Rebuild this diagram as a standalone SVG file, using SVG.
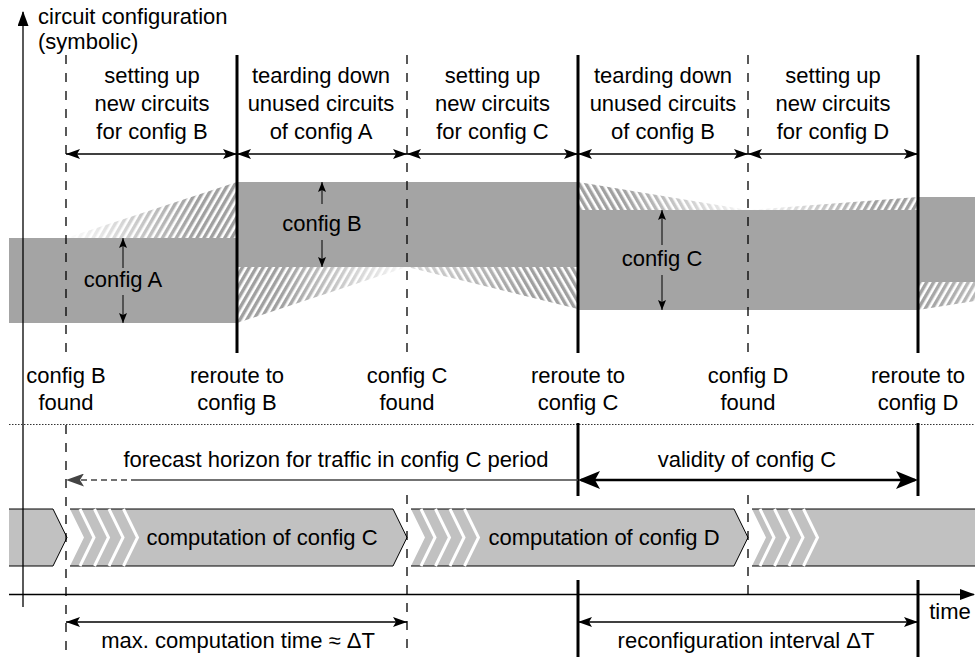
<svg xmlns="http://www.w3.org/2000/svg" width="975" height="657" viewBox="0 0 975 657">
  <style>
    .t { font-family: "Liberation Sans", Arial, Helvetica, sans-serif; font-size: 22px; fill: #000; text-anchor: middle; }
    .band { fill: #a4a4a4; }
    .calc { fill: #c1c1c1; }
    .calc-edge { fill: none; stroke: #000; stroke-width: 1; }
    .chev { fill: none; stroke: #fff; stroke-width: 3; }
    .dash { fill: none; stroke: #000; stroke-width: 1.3; stroke-dasharray: 9 9; }
    .thick { fill: none; stroke: #000; stroke-width: 3; }
    .thin { fill: none; stroke: #000; stroke-width: 1.3; }
    .span { fill: none; stroke: #000; stroke-width: 1.3; marker-start: url(#head); marker-end: url(#head); }
    .size { fill: none; stroke: #000; stroke-width: 1; marker-end: url(#headSmall); }
  </style>
  <defs>
    <marker id="head" markerUnits="userSpaceOnUse" viewBox="0 0 14 10" refX="14" refY="5" markerWidth="14" markerHeight="10" orient="auto-start-reverse">
      <path d="M0,0 L14,5 L0,10 L3,5 z" fill="#000"/>
    </marker>
    <marker id="headSmall" markerUnits="userSpaceOnUse" viewBox="0 0 10 8" refX="10" refY="4" markerWidth="10" markerHeight="8" orient="auto-start-reverse">
      <path d="M0,0 L10,4 L0,8 L2,4 z" fill="#000"/>
    </marker>
    <marker id="headBig" markerUnits="userSpaceOnUse" viewBox="0 0 22 18" refX="19" refY="9" markerWidth="22" markerHeight="18" orient="auto-start-reverse">
      <path d="M0,0 L22,9 L0,18 L5,9 z" fill="#000"/>
    </marker>
    <marker id="headGrey" markerUnits="userSpaceOnUse" viewBox="0 0 18 13" refX="17" refY="6.5" markerWidth="18" markerHeight="13" orient="auto">
      <path d="M0,0 L18,6.5 L0,13 L4,6.5 z" fill="#444"/>
    </marker>
    <marker id="headAxis" markerUnits="userSpaceOnUse" viewBox="0 0 15 11" refX="14" refY="5.5" markerWidth="15" markerHeight="11" orient="auto">
      <path d="M0,0 L15,5.5 L0,11 z" fill="#000"/>
    </marker>

    <!-- diagonal stripes for circuits being set up / torn down -->
    <pattern id="hatchF" width="6" height="6" patternUnits="userSpaceOnUse" patternTransform="rotate(30)">
      <rect width="3.4" height="6" fill="#a0a0a0"/>
    </pattern>
    <pattern id="hatchB" width="6" height="6" patternUnits="userSpaceOnUse" patternTransform="rotate(-30)">
      <rect width="3.4" height="6" fill="#a0a0a0"/>
    </pattern>

    <!-- fades for the striped transition regions -->
    <linearGradient id="gIn" x1="0" y1="0" x2="1" y2="0">
      <stop offset="0" stop-color="#000"/>
      <stop offset="0.75" stop-color="#fff"/>
    </linearGradient>
    <linearGradient id="gInHalf" x1="0" y1="0" x2="1" y2="0">
      <stop offset="0" stop-color="#666"/>
      <stop offset="0.7" stop-color="#fff"/>
    </linearGradient>
    <linearGradient id="gOut" x1="0" y1="0" x2="1" y2="0">
      <stop offset="0.25" stop-color="#fff"/>
      <stop offset="1" stop-color="#111"/>
    </linearGradient>
    <linearGradient id="gOutShort" x1="0" y1="0" x2="1" y2="0">
      <stop offset="0" stop-color="#fff"/>
      <stop offset="1" stop-color="#bbb"/>
    </linearGradient>
    <mask id="mIn" maskContentUnits="objectBoundingBox"><rect width="1" height="1" fill="url(#gIn)"/></mask>
    <mask id="mInHalf" maskContentUnits="objectBoundingBox"><rect width="1" height="1" fill="url(#gInHalf)"/></mask>
    <mask id="mOut" maskContentUnits="objectBoundingBox"><rect width="1" height="1" fill="url(#gOut)"/></mask>
    <mask id="mOutShort" maskContentUnits="objectBoundingBox"><rect width="1" height="1" fill="url(#gOutShort)"/></mask>
  </defs>

  <rect width="975" height="657" fill="#fff"/>

  <!-- circuit configurations over time -->
  <g id="config-bands">
    <rect class="band" x="9" y="238" width="228" height="85"/>
    <rect class="band" x="237" y="182" width="341" height="85"/>
    <rect class="band" x="578" y="210" width="340" height="100"/>
    <rect class="band" x="918" y="197" width="57" height="85"/>
    <!-- set up B -->
    <polygon points="66,238 237,182 237,238" fill="url(#hatchF)" mask="url(#mIn)"/>
    <!-- tear down A -->
    <polygon points="237,267 407,267 237,323" fill="url(#hatchF)" mask="url(#mOut)"/>
    <!-- set up C -->
    <polygon points="407,267 578,267 578,309" fill="url(#hatchB)" mask="url(#mInHalf)"/>
    <!-- tear down B -->
    <polygon points="578,182 748,210 578,210" fill="url(#hatchB)" mask="url(#mOut)"/>
    <!-- set up D -->
    <polygon points="748,210 918,197 918,210" fill="url(#hatchF)" mask="url(#mIn)"/>
    <!-- tear down C -->
    <polygon points="918,282 975,282 975,301 918,310" fill="url(#hatchF)" mask="url(#mOutShort)"/>
  </g>

  <!-- computation pipeline -->
  <g id="computation">
    <polygon class="calc" points="9,509 53,509 67,537.5 53,566 9,566"/>
    <polyline class="calc-edge" points="9,509 53,509 67,537.5 53,566 9,566"/>

    <polygon class="calc" points="70,509 393,509 407,537.5 393,566 70,566 84,537.5"/>
    <polyline class="calc-edge" points="70,509 393,509 407,537.5 393,566 70,566"/>
    <polyline class="chev" points="80,509 94,537.5 80,566"/>
    <polyline class="chev" points="94.5,509 108.5,537.5 94.5,566"/>
    <polyline class="chev" points="109,509 123,537.5 109,566"/>
    <polyline class="chev" points="123.5,509 137.5,537.5 123.5,566"/>

    <polygon class="calc" points="411,509 734,509 748,537.5 734,566 411,566 425,537.5"/>
    <polyline class="calc-edge" points="411,509 734,509 748,537.5 734,566 411,566"/>
    <polyline class="chev" points="421,509 435,537.5 421,566"/>
    <polyline class="chev" points="435.5,509 449.5,537.5 435.5,566"/>
    <polyline class="chev" points="450,509 464,537.5 450,566"/>
    <polyline class="chev" points="464.5,509 478.5,537.5 464.5,566"/>

    <polygon class="calc" points="752,509 975,509 975,566 752,566 766,537.5"/>
    <polyline class="calc-edge" points="752,509 975,509"/>
    <polyline class="calc-edge" points="752,566 975,566"/>
    <polyline class="chev" points="760,509 774,537.5 760,566"/>
    <polyline class="chev" points="774.5,509 788.5,537.5 774.5,566"/>
    <polyline class="chev" points="789,509 803,537.5 789,566"/>
    <polyline class="chev" points="803.5,509 817.5,537.5 803.5,566"/>

    <text class="t" x="262" y="545">computation of config C</text>
    <text class="t" x="604" y="545">computation of config D</text>
  </g>

  <!-- axes -->
  <g id="axes">
    <line class="thin" x1="23" y1="607" x2="23" y2="12" marker-end="url(#headAxis)"/>
    <line class="thin" x1="9" y1="594.5" x2="974" y2="594.5" marker-end="url(#headAxis)"/>
    <line x1="9" y1="424.5" x2="975" y2="424.5" stroke="#333" stroke-width="1" stroke-dasharray="1.5 1.5"/>
    <text class="t" x="38" y="24" style="text-anchor:start">circuit configuration</text>
    <text class="t" x="38" y="49" style="text-anchor:start">(symbolic)</text>
    <text class="t" x="950" y="619">time</text>
  </g>

  <!-- event times: dashed = config found, solid = reroute -->
  <g id="event-lines">
    <line class="dash" x1="66" y1="55" x2="66" y2="358"/>
    <line class="dash" x1="66" y1="425" x2="66" y2="657"/>
    <line class="dash" x1="407" y1="55" x2="407" y2="358"/>
    <line class="dash" x1="407" y1="495" x2="407" y2="657"/>
    <line class="dash" x1="748" y1="55" x2="748" y2="358"/>
    <line class="dash" x1="748" y1="495" x2="748" y2="602"/>

    <line class="thick" x1="237" y1="55" x2="237" y2="353"/>
    <line class="thick" x1="578" y1="55" x2="578" y2="353"/>
    <line class="thick" x1="578" y1="423" x2="578" y2="496"/>
    <line class="thick" x1="578" y1="580" x2="578" y2="657"/>
    <line class="thick" x1="918" y1="55" x2="918" y2="353"/>
    <line class="thick" x1="918" y1="423" x2="918" y2="496"/>
    <line class="thick" x1="918" y1="580" x2="918" y2="657"/>
  </g>

  <!-- arrows -->
  <g id="connectors">
    <line class="span" x1="66" y1="154" x2="237" y2="154"/>
    <line class="span" x1="237" y1="154" x2="407" y2="154"/>
    <line class="span" x1="407" y1="154" x2="578" y2="154"/>
    <line class="span" x1="578" y1="154" x2="748" y2="154"/>
    <line class="span" x1="748" y1="154" x2="918" y2="154"/>

    <line class="size" x1="123" y1="268" x2="123" y2="238"/>
    <line class="size" x1="123" y1="295" x2="123" y2="323"/>
    <line class="size" x1="322" y1="204" x2="322" y2="182"/>
    <line class="size" x1="322" y1="240" x2="322" y2="267"/>
    <line class="size" x1="662" y1="245" x2="662" y2="210"/>
    <line class="size" x1="662" y1="275" x2="662" y2="310"/>

    <line x1="578" y1="480" x2="137" y2="480" stroke="#444" stroke-width="1.3"/>
    <line x1="137" y1="480" x2="67" y2="480" stroke="#444" stroke-width="1.3" stroke-dasharray="6 4" marker-end="url(#headGrey)"/>

    <line x1="581" y1="480" x2="915" y2="480" stroke="#000" stroke-width="2.5" marker-start="url(#headBig)" marker-end="url(#headBig)"/>

    <line class="span" x1="66" y1="622" x2="407" y2="622"/>
    <line class="span" x1="578" y1="622" x2="918" y2="622"/>
  </g>

  <!-- phase descriptions -->
  <g id="phase-labels">
    <g id="phase-setup-b">
      <text class="t" x="152" y="82.5">setting up</text>
      <text class="t" x="152" y="110.5">new circuits</text>
      <text class="t" x="152" y="138.5">for config B</text>
    </g>
    <g id="phase-teardown-a">
      <text class="t" x="321" y="82.5">tearding down</text>
      <text class="t" x="321" y="110.5">unused circuits</text>
      <text class="t" x="321" y="138.5">of config A</text>
    </g>
    <g id="phase-setup-c">
      <text class="t" x="492.5" y="82.5">setting up</text>
      <text class="t" x="492.5" y="110.5">new circuits</text>
      <text class="t" x="492.5" y="138.5">for config C</text>
    </g>
    <g id="phase-teardown-b">
      <text class="t" x="663" y="82.5">tearding down</text>
      <text class="t" x="663" y="110.5">unused circuits</text>
      <text class="t" x="663" y="138.5">of config B</text>
    </g>
    <g id="phase-setup-d">
      <text class="t" x="833" y="82.5">setting up</text>
      <text class="t" x="833" y="110.5">new circuits</text>
      <text class="t" x="833" y="138.5">for config D</text>
    </g>
  </g>

  <g id="band-labels">
    <text class="t" x="123" y="287">config A</text>
    <text class="t" x="322" y="231">config B</text>
    <text class="t" x="662" y="266">config C</text>
  </g>

  <g id="event-labels">
    <g id="ev-b-found"><text class="t" x="66" y="382.5">config B</text><text class="t" x="66" y="410">found</text></g>
    <g id="ev-reroute-b"><text class="t" x="237" y="382.5">reroute to</text><text class="t" x="237" y="410">config B</text></g>
    <g id="ev-c-found"><text class="t" x="407" y="382.5">config C</text><text class="t" x="407" y="410">found</text></g>
    <g id="ev-reroute-c"><text class="t" x="578" y="382.5">reroute to</text><text class="t" x="578" y="410">config C</text></g>
    <g id="ev-d-found"><text class="t" x="748" y="382.5">config D</text><text class="t" x="748" y="410">found</text></g>
    <g id="ev-reroute-d"><text class="t" x="918" y="382.5">reroute to</text><text class="t" x="918" y="410">config D</text></g>
  </g>

  <g id="interval-labels">
    <text class="t" x="336" y="467">forecast horizon for traffic in config C period</text>
    <text class="t" x="747" y="467">validity of config C</text>
    <text class="t" x="238" y="647.5">max. computation time ≈ ΔT</text>
    <text class="t" x="746" y="647.5">reconfiguration interval ΔT</text>
  </g>
</svg>
